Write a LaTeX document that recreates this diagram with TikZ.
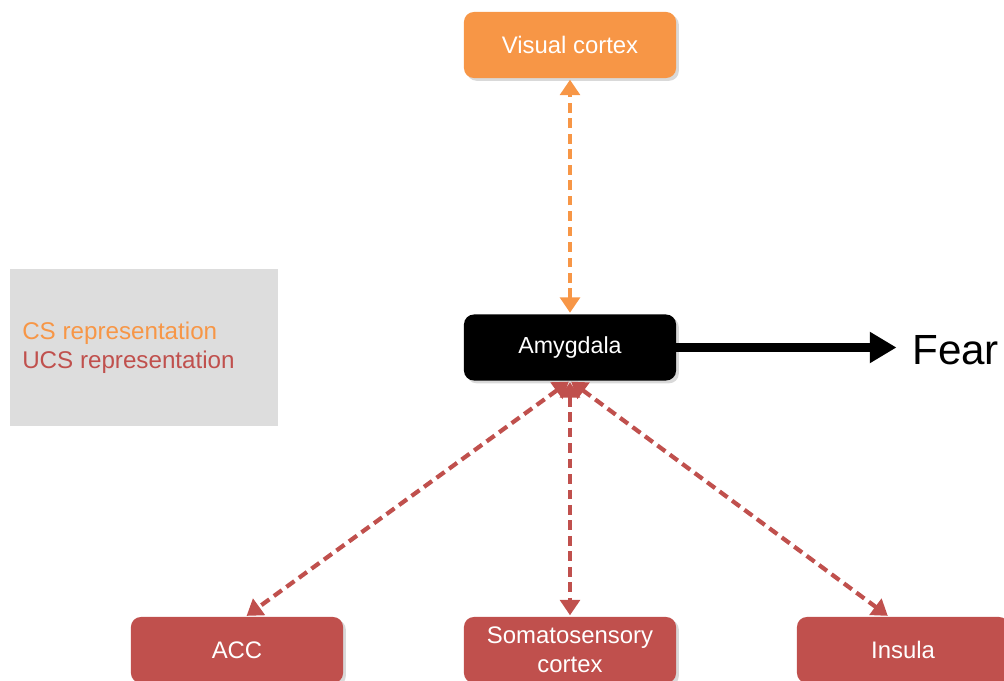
\documentclass[tikz,border=0pt]{standalone}
\usepackage{fontspec}
\setmainfont{Liberation Sans}
\usetikzlibrary{arrows.meta,shadows}
\definecolor{csorange}{HTML}{F79646}
\definecolor{ucsred}{HTML}{C0504D}
\definecolor{legendgray}{HTML}{DDDDDD}
\begin{document}
\begin{tikzpicture}[
    x=0.025cm, y=-0.025cm,
    region/.style={rectangle, rounded corners=7pt, minimum width=5.3cm, minimum height=1.65cm, align=center, text=white, font=\fontsize{17}{20.6}\selectfont, drop shadow={opacity=0.3, shadow xshift=2pt, shadow yshift=-2pt}},
    link/.style={{Triangle[width=14pt,length=11pt]}-{Triangle[width=14pt,length=11pt]}, line width=3pt, dash pattern=on 7pt off 4pt, shorten <=1pt, shorten >=1pt}
]
\useasboundingbox (0,0) rectangle (1004,681);

% legend
\fill[legendgray] (10,269) rectangle (278,426);
\node[anchor=west, align=left, font=\fontsize{17.2}{20.6}\selectfont, inner sep=0pt] (legend) at (22,347.5) {\textcolor{csorange}{CS representation}\\\textcolor{ucsred}{UCS representation}};

% regions
\node[region, fill=csorange] (visual) at (570,45) {Visual cortex};
\node[region, fill=black, font=\fontsize{16.5}{19}\selectfont] (amyg) at (570,347.5) {Amygdala};
\node[region, fill=ucsred] (acc) at (237,650) {ACC};
\node[region, fill=ucsred] (soma) at (570,650) {Somatosensory\\cortex};
\node[region, fill=ucsred] (insula) at (903,650) {Insula};
\node[font=\fontsize{30}{36}\selectfont, anchor=west, inner sep=0pt] (fear) at (912,350) {Fear};

% connections
\draw[link, csorange] (amyg.north) -- (visual.south);
\draw[link, ucsred] (amyg.south) -- ([xshift=6]acc.north);
\draw[link, ucsred] (amyg.south) -- (soma.north);
\draw[link, ucsred] (amyg.south) -- ([xshift=-10]insula.north);
\draw[-{Triangle[width=21pt,length=19pt]}, line width=6pt, shorten >=11] (amyg.east) -- (amyg.east -| fear.west);
\end{tikzpicture}
\end{document}
